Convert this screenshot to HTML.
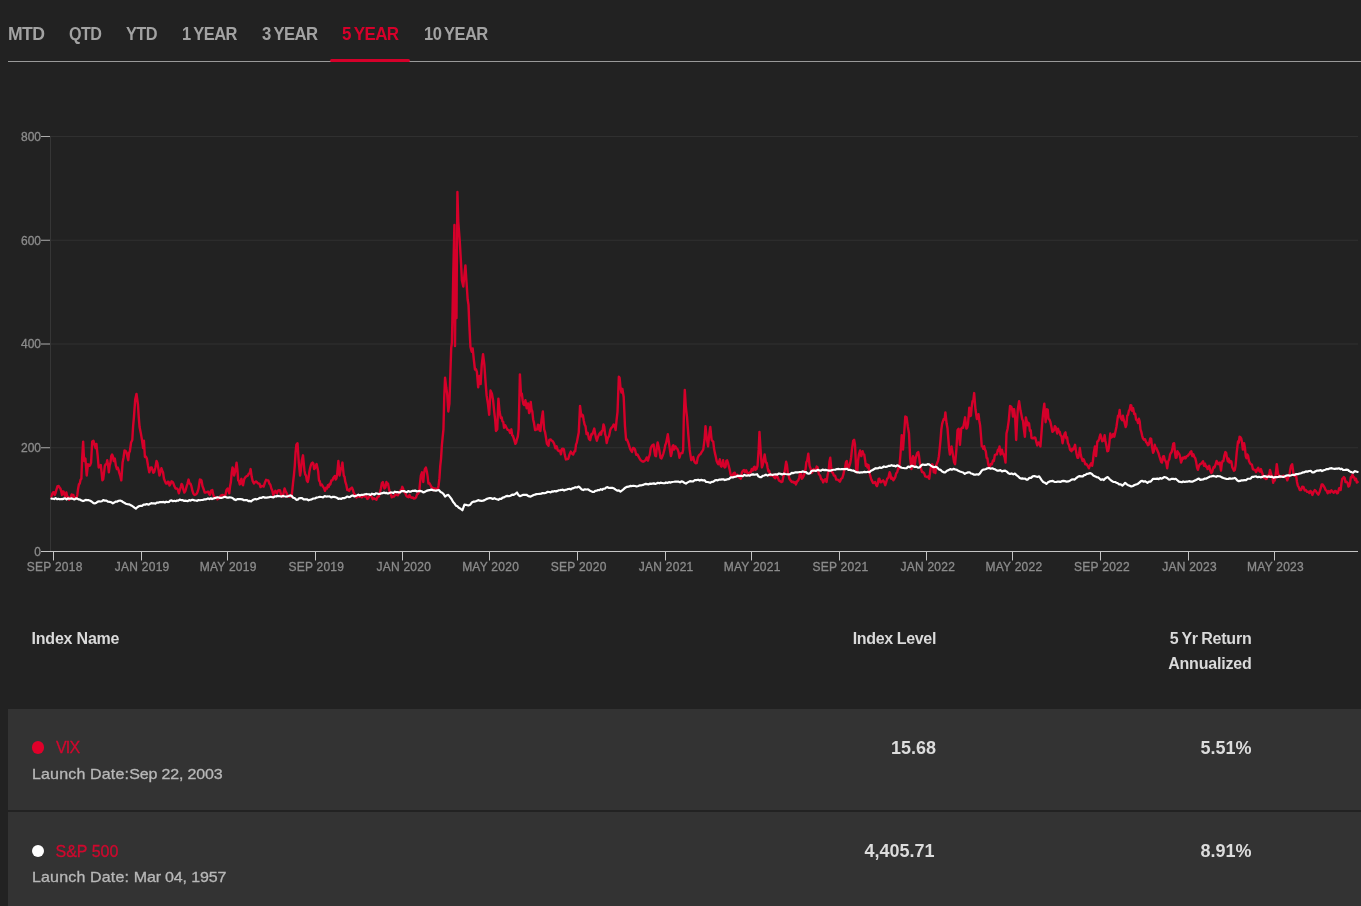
<!DOCTYPE html>
<html lang="en"><head><meta charset="utf-8"><title>Index performance</title>
<style>
html,body{margin:0;padding:0;background:#222222;}
body{width:1361px;height:906px;position:relative;overflow:hidden;font-family:"Liberation Sans",sans-serif;color:#d8d8d8;}
.tab{position:absolute;top:23px;height:22px;line-height:22px;font-size:17.5px;font-weight:bold;color:#a2a2a2;white-space:nowrap;letter-spacing:-0.6px;word-spacing:-1px;transform-origin:0 50%}
.tab.on{color:#d6002a}
.rule{position:absolute;left:8px;right:0;top:61px;height:1px;background:#9a9a9a}
.ul{position:absolute;left:330px;width:80px;top:59px;height:3px;border-radius:2px;background:#d6002a}
.chart{position:absolute;left:0;top:0}
.ax{font-family:"Liberation Sans",sans-serif;font-size:12px;fill:#8c8c8c;stroke:#8c8c8c;stroke-width:0.3px}
.xl{letter-spacing:0.25px}
.th{position:absolute;font-size:16px;font-weight:bold;color:#dadada;line-height:25px;white-space:nowrap;letter-spacing:-0.2px}
.row{position:absolute;left:8px;right:0;background:#333333}
.dot{position:absolute;width:12.6px;height:12.6px;border-radius:50%}
.nm{position:absolute;left:56px;font-size:16px;color:#d0082e;-webkit-text-stroke:0.3px #d0082e;white-space:nowrap;line-height:20px}
.ld{position:absolute;left:32px;font-size:15px;transform:scaleX(1.067);transform-origin:0 50%;color:#b8b8b8;-webkit-text-stroke:0.3px #b8b8b8;white-space:nowrap;line-height:20px}
.la{letter-spacing:0.15px}.lb{letter-spacing:-0.15px}
.val{position:absolute;font-size:18px;font-weight:bold;color:#dcdcdc;white-space:nowrap;line-height:22px;text-align:right}
#wrap{position:absolute;left:0;top:0;width:1361px;height:906px;will-change:transform;transform:translateZ(0)}
</style></head><body><div id="wrap">
<span class="tab" style="left:7.6px;transform:scaleX(1.007)">MTD</span><span class="tab" style="left:68.5px;transform:scaleX(0.921)">QTD</span><span class="tab" style="left:125.8px;transform:scaleX(0.932)">YTD</span><span class="tab" style="left:182.0px;transform:scaleX(0.94)">1 YEAR</span><span class="tab" style="left:261.7px;transform:scaleX(0.953)">3 YEAR</span><span class="tab on" style="left:341.6px;transform:scaleX(0.97)">5 YEAR</span><span class="tab" style="left:423.7px;transform:scaleX(0.945)">10 YEAR</span>
<div class="rule"></div><div class="ul"></div>
<svg class="chart" width="1361" height="600" viewBox="0 0 1361 600">
<line x1="50" y1="136.5" x2="1358" y2="136.5" stroke="#303030" stroke-width="1"/>
<line x1="50" y1="240.25" x2="1358" y2="240.25" stroke="#303030" stroke-width="1"/>
<line x1="50" y1="344.0" x2="1358" y2="344.0" stroke="#303030" stroke-width="1"/>
<line x1="50" y1="447.75" x2="1358" y2="447.75" stroke="#303030" stroke-width="1"/>
<line x1="50.5" y1="136" x2="50.5" y2="552" stroke="#363636" stroke-width="1"/>
<line x1="41" y1="136.5" x2="50" y2="136.5" stroke="#adadad" stroke-width="1"/>
<text x="41" y="140.8" text-anchor="end" class="ax">800</text>
<line x1="41" y1="240.25" x2="50" y2="240.25" stroke="#adadad" stroke-width="1"/>
<text x="41" y="244.55" text-anchor="end" class="ax">600</text>
<line x1="41" y1="344.0" x2="50" y2="344.0" stroke="#adadad" stroke-width="1"/>
<text x="41" y="348.3" text-anchor="end" class="ax">400</text>
<line x1="41" y1="447.75" x2="50" y2="447.75" stroke="#adadad" stroke-width="1"/>
<text x="41" y="452.05" text-anchor="end" class="ax">200</text>
<line x1="41" y1="551.5" x2="50" y2="551.5" stroke="#adadad" stroke-width="1"/>
<text x="41" y="555.8" text-anchor="end" class="ax">0</text>
<line x1="41" y1="551.5" x2="1358" y2="551.5" stroke="#c4c4c4" stroke-width="1"/>
<line x1="53.5" y1="551.5" x2="53.5" y2="560.5" stroke="#c4c4c4" stroke-width="1"/>
<text x="54.7" y="571" text-anchor="middle" class="ax xl">SEP 2018</text>
<line x1="141.5" y1="551.5" x2="141.5" y2="560.5" stroke="#c4c4c4" stroke-width="1"/>
<text x="142.2" y="571" text-anchor="middle" class="ax xl">JAN 2019</text>
<line x1="227.5" y1="551.5" x2="227.5" y2="560.5" stroke="#c4c4c4" stroke-width="1"/>
<text x="228.2" y="571" text-anchor="middle" class="ax xl">MAY 2019</text>
<line x1="315.5" y1="551.5" x2="315.5" y2="560.5" stroke="#c4c4c4" stroke-width="1"/>
<text x="316.3" y="571" text-anchor="middle" class="ax xl">SEP 2019</text>
<line x1="402.5" y1="551.5" x2="402.5" y2="560.5" stroke="#c4c4c4" stroke-width="1"/>
<text x="403.8" y="571" text-anchor="middle" class="ax xl">JAN 2020</text>
<line x1="489.5" y1="551.5" x2="489.5" y2="560.5" stroke="#c4c4c4" stroke-width="1"/>
<text x="490.6" y="571" text-anchor="middle" class="ax xl">MAY 2020</text>
<line x1="577.5" y1="551.5" x2="577.5" y2="560.5" stroke="#c4c4c4" stroke-width="1"/>
<text x="578.7" y="571" text-anchor="middle" class="ax xl">SEP 2020</text>
<line x1="665.5" y1="551.5" x2="665.5" y2="560.5" stroke="#c4c4c4" stroke-width="1"/>
<text x="666.2" y="571" text-anchor="middle" class="ax xl">JAN 2021</text>
<line x1="751.5" y1="551.5" x2="751.5" y2="560.5" stroke="#c4c4c4" stroke-width="1"/>
<text x="752.2" y="571" text-anchor="middle" class="ax xl">MAY 2021</text>
<line x1="839.5" y1="551.5" x2="839.5" y2="560.5" stroke="#c4c4c4" stroke-width="1"/>
<text x="840.4" y="571" text-anchor="middle" class="ax xl">SEP 2021</text>
<line x1="926.5" y1="551.5" x2="926.5" y2="560.5" stroke="#c4c4c4" stroke-width="1"/>
<text x="927.8" y="571" text-anchor="middle" class="ax xl">JAN 2022</text>
<line x1="1012.5" y1="551.5" x2="1012.5" y2="560.5" stroke="#c4c4c4" stroke-width="1"/>
<text x="1013.9" y="571" text-anchor="middle" class="ax xl">MAY 2022</text>
<line x1="1100.5" y1="551.5" x2="1100.5" y2="560.5" stroke="#c4c4c4" stroke-width="1"/>
<text x="1102.0" y="571" text-anchor="middle" class="ax xl">SEP 2022</text>
<line x1="1188.5" y1="551.5" x2="1188.5" y2="560.5" stroke="#c4c4c4" stroke-width="1"/>
<text x="1189.5" y="571" text-anchor="middle" class="ax xl">JAN 2023</text>
<line x1="1274.5" y1="551.5" x2="1274.5" y2="560.5" stroke="#c4c4c4" stroke-width="1"/>
<text x="1275.5" y="571" text-anchor="middle" class="ax xl">MAY 2023</text>
<polyline fill="none" stroke="#d6002a" stroke-width="2.4" stroke-linejoin="round" stroke-linecap="round" points="51.47,496.54 52.27,493.78 53.08,492.5 53.89,492.23 54.7,494.93 55.51,493.16 56.32,490.08 57.53,486.09 58.74,486.03 59.55,487.41 60.36,488.46 61.16,491.11 61.97,494.93 62.78,491.41 63.59,491.69 64.4,494.15 65.21,496.54 66.34,492.5 67.63,498.16 68.44,497.14 69.25,499.78 70.06,498.3 70.86,497.35 71.67,494.37 72.48,494.93 73.29,494.87 74.1,498.16 75.31,497.86 76.52,498.16 77.33,494.71 78.14,488.46 78.95,484.26 79.76,483.61 80.56,479.8 81.37,478.76 82.18,457.74 83.15,441.58 84.12,460.98 85.41,458.55 86.71,475.53 88,464.21 89.46,465.83 90.26,464.98 91.07,462.59 92.2,441.58 93.5,440.77 94.79,445.62 95.6,448.03 96.41,444 97.7,456.13 98.67,467.44 99.72,466.69 100.77,465.02 101.58,472.13 102.39,480.38 103.19,479.26 104,473.1 104.81,466.04 105.62,464.21 106.43,464.4 107.24,460.17 108.04,464.99 108.85,472.29 109.66,465.36 110.47,462.59 111.28,456.11 112.09,454.51 112.9,456.51 113.7,460.98 114.84,458.55 115.89,465.72 116.94,469.06 117.75,467.64 118.55,469.87 119.36,473.15 120.17,475.53 121.3,480.38 122.59,462.59 123.56,457.43 124.53,450.47 125.59,450.82 126.64,452.9 127.44,456.85 128.25,460.17 129.06,452.86 129.87,451.28 131.08,442.47 132.29,439.96 133.1,426.24 133.91,417.33 135.2,399.55 136.5,393.89 137.95,404.4 138.76,417.33 139.57,427.03 140.78,432.92 141.99,439.96 143.12,448.05 143.93,440.77 144.9,456.94 145.87,456.55 146.84,458.55 148.06,465.93 149.27,472.29 150.07,469.6 150.88,467.44 151.69,467.5 152.5,469.87 153.31,472.74 154.12,472.29 155.33,467.81 156.54,460.98 157.35,462.67 158.16,467.44 159.45,475.53 160.42,472.31 161.39,468.25 162.2,470.41 163.01,472.29 163.98,478.72 164.95,481.18 166,483.53 167.05,483.61 167.86,481.76 168.67,481.99 169.47,485.56 170.28,484.42 171.5,481.33 172.71,481.99 173.51,483.61 174.32,486.03 175.53,488.44 176.75,488.46 177.8,489.34 178.85,493.31 179.82,490.03 180.79,486.84 181.6,483.86 182.41,485.23 183.38,489.63 184.35,492.5 185.4,490.86 186.45,486.84 187.5,483.56 188.55,479.57 189.52,483.47 190.49,483.61 191.46,486.38 192.43,490.88 193.48,493.75 194.53,494.93 195.75,494.52 196.96,493.31 197.76,491.24 198.57,488.46 199.87,479.57 200.68,479.75 201.48,480.38 202.45,486.06 203.42,488.46 204.63,492.46 205.85,492.5 207.06,491.98 208.27,491.69 209.08,494.01 209.89,494.93 211.1,490.6 212.31,490.08 213.12,494.17 213.93,496.54 215.14,497.54 216.35,497.35 217.43,499.35 218.51,498.65 219.59,497.35 220.67,495.66 221.74,495.26 222.82,494.93 224.03,496.03 225.25,495.73 226.46,490.01 227.67,488.46 228.48,490.72 229.29,493.31 230.09,486.11 230.9,481.99 231.71,472.64 232.52,467.44 233.33,469.01 234.14,475.53 235.35,470.6 236.56,462.59 237.37,469.41 238.18,480.38 238.99,481.15 239.79,484.42 240.6,481.05 241.41,478.76 242.22,483.84 243.03,485.23 244.24,479.08 245.45,477.14 246.66,476.07 247.88,475.53 248.8,473.64 249.71,473.37 250.63,469.06 251.68,476.84 252.73,481.18 253.94,483.4 255.15,481.99 256.23,481.44 257.31,482.65 258.39,483.61 259.47,483.74 260.54,487.06 261.62,486.03 262.42,486.03 263.63,486.62 264.85,482.8 266.06,479.85 267.27,480.38 268.32,480.39 269.38,483.61 270.35,484.77 271.32,488.46 272.29,490.52 273.26,494.93 274.31,492.84 275.36,490.88 276.17,492.48 276.97,493.31 278.02,490.65 279.08,490.08 280.05,490.35 281.02,494.93 281.99,495.4 282.96,496.54 283.76,491.93 284.57,488.46 285.62,491.18 286.67,493.31 287.72,496.43 288.77,495.73 289.69,496.79 290.6,496.33 291.52,496.54 292.33,489.8 293.14,481.99 293.95,474.87 294.76,465.83 295.56,452.39 296.37,444.81 297.5,443.2 298.8,462.59 300.09,475.53 300.9,470.57 301.71,460.98 303,455.32 304.46,470.68 305.26,474.65 306.07,475.53 306.88,480.69 307.69,481.99 308.5,478.71 309.3,472.29 310.11,468.03 310.92,465.02 311.73,463.19 312.54,462.59 313.35,463.47 314.15,469.06 314.96,468.23 315.77,465.83 316.58,464.06 317.39,467.44 318.19,471.55 319,480.38 319.81,481.37 320.62,485.23 321.84,484.44 323.05,486.84 324.02,488.13 324.99,490.88 326.04,487.65 327.09,488.46 327.89,485.34 328.7,486.84 329.51,483.97 330.32,484.42 331.37,480.43 332.42,480.38 333.23,478.06 334.04,477.14 334.85,475.89 335.65,479.57 336.46,478.32 337.27,473.1 338.4,460.98 339.53,475.53 340.83,469.06 341.63,466.5 342.44,462.59 343.74,475.53 344.55,476.94 345.35,481.99 346.32,484.86 347.29,490.08 348.26,489.8 349.23,490.88 350.04,489.06 350.85,488.46 351.9,487.56 352.95,490.08 354.16,494.02 355.38,494.93 356.46,497.52 357.53,495.86 358.61,496.54 359.69,496.74 360.76,495.4 361.84,497.35 362.92,495.46 364,496.17 365.08,496.54 366.16,496.12 367.23,498.95 368.31,498.16 369.39,496.25 370.46,495.14 371.54,496.54 372.75,499.18 373.97,498.16 375.18,499.08 376.39,499.78 377.61,496.75 378.82,496.54 379.87,492.69 380.92,488.46 381.89,482.97 382.86,481.99 383.67,485.36 384.47,488.46 385.44,487.51 386.41,481.99 387.22,484.59 388.03,483.61 389.08,489.36 390.13,493.31 390.94,494.33 391.75,497.35 392.96,496.4 394.17,496.54 395.38,494.35 396.6,494.93 397.81,495.27 399.02,493.31 399.83,491.84 400.64,490.08 401.45,489.74 402.26,486.84 403.06,488.49 403.87,491.69 405.09,492.53 406.3,495.73 407.38,496.76 408.45,497.22 409.53,494.93 410.61,497.2 411.68,497.8 412.76,497.35 413.84,498.64 414.92,498.32 416,497.35 417.08,494.33 418.15,493.65 419.23,491.69 420.04,482.91 420.85,475.53 421.98,472.29 423.27,481.99 424.08,473 424.89,469.06 425.86,467.6 426.83,471.49 427.63,476.39 428.44,483.61 429.5,483.26 430.55,485.23 431.6,487.35 432.65,487.65 433.62,490.16 434.59,488.46 435.8,488.62 437.01,489.27 437.82,489.28 438.63,485.23 439.44,478.15 440.25,465.83 441.03,458.87 441.82,445.97 442.63,437.41 443.44,429.32 444.25,396.99 445.06,377.59 446.19,387.29 447.16,393.76 448.29,411.54 449.42,403.46 450.39,372.74 451.2,348 451.9,343 452.6,310 453.3,272 454.4,225 454.7,320 455,346 455.5,290 456,250 456.5,318 457,240 457.4,192 458.3,222 459.7,240 461.1,264.5 461.9,280.4 463.3,286.6 464.3,276 465.4,265.4 466.5,282 467.7,299.8 468.5,304.85 469.3,324.25 470.44,346.88 471.73,351.73 472.7,348.5 473.67,358.2 474.96,369.51 475.93,369.15 476.9,371.94 478.2,387.29 479.49,375.98 480.62,384.06 481.75,364.66 483.05,354.15 484.34,364.66 485.47,380.83 486.6,395.38 487.9,403.46 489.19,414.78 490.48,390.53 491.94,393.76 493.07,400.23 494.36,413.16 495.17,419.66 495.98,430.94 497.27,429.32 498.4,398.61 499.53,411.54 500.83,418.01 501.63,417.25 502.44,421.24 503.25,421.92 504.06,427.71 505.27,425.28 506.49,427.71 507.7,429.93 508.91,430.13 510.12,432.97 511.34,429.32 512.14,435.26 512.95,435.79 514.16,439.68 515.38,443.87 516.18,442.58 516.99,439.02 517.8,436.52 518.61,429.32 519.42,396.99 519.9,374.36 521.03,395.38 521.84,393.64 522.65,400.23 523.46,404.22 524.27,405.08 525.4,400.23 526.69,408.31 527.99,403.46 529.12,413.16 529.92,411.37 530.73,401.84 531.54,409.37 532.35,411.54 533.16,419.42 533.97,422.86 535.1,430.13 536.15,429.55 537.2,429.32 538.01,424.65 538.82,425.28 539.62,430.48 540.43,430.94 541.56,419.62 542.86,411.54 544.15,429.32 545.12,432.45 546.09,438.22 546.9,443.68 547.71,444.68 548.52,445.72 549.32,439.83 550.54,439.46 551.75,440.64 552.96,441.53 554.17,443.87 555.38,448.3 556.6,446.3 557.81,450.29 559.02,451.15 559.99,450.55 560.96,454.38 562.01,449.01 563.06,448.72 563.87,449.18 564.68,454.38 565.89,459.43 567.11,459.23 568.32,458.79 569.53,454.38 570.75,451.62 571.96,453.57 573.17,454.56 574.38,451.15 575.19,451.28 576,444.68 576.81,442.61 577.61,438.22 578.75,432.56 580.04,405.88 581.33,416.39 582.14,414.65 582.95,415.58 583.76,420.45 584.57,424.47 585.54,426.32 586.51,434.17 587.72,432.86 588.93,439.02 590.14,440.22 591.35,434.17 592.16,434.55 592.97,432.56 594.26,428.52 595.07,433.18 595.88,437.41 596.85,440.73 597.82,437.41 599.04,434.47 600.25,432.56 601.06,434.72 601.86,430.94 602.67,430.39 603.48,424.47 604.29,426.97 605.1,434.17 605.9,436.74 606.71,443.06 607.92,437.87 609.14,435.79 610.35,429.68 611.56,427.71 612.61,426.81 613.66,424.47 614.63,425.31 615.6,430.13 616.57,420.14 617.54,411.54 618.84,376.79 619.64,377.99 620.45,387.29 621.42,392.45 622.39,388.91 623.69,396.99 624.98,426.09 626.11,439.83 626.92,439.55 627.73,441.45 628.54,443.57 629.34,446.3 630.15,448.9 630.96,450.34 632.01,451.93 633.06,447.91 634.03,448.17 635,449.53 636.21,454.78 637.43,454.38 638.72,456.82 640.01,459.23 640.66,460.17 641.87,461.18 643.08,461.79 644.3,461.13 645.51,460.17 646.72,457.39 647.93,460.65 648.9,457.19 649.87,454.51 650.68,448.3 651.49,446.43 652.78,444.81 653.59,444.57 654.4,451.28 655.21,455.7 656.02,456.13 656.83,446.99 657.63,442.39 658.44,445.84 659.25,449.66 660.54,457.74 661.51,458.39 662.48,456.13 663.45,453.27 664.42,449.66 665.23,445.19 666.04,443.2 666.93,438.89 667.82,434.3 669.27,444.81 670.08,450.85 670.89,456.13 671.69,453.22 672.5,446.43 673.31,445.28 674.12,449.66 675.41,446.43 676.38,448.06 677.35,448.85 678.4,451.61 679.46,457.74 680.51,453.85 681.56,452.9 682.37,453.13 683.17,449.66 683.82,417.33 684.79,389.85 685.76,406.02 687.05,417.33 688.35,435.11 689.64,449.66 690.45,454.97 691.26,460.17 692.23,458.95 693.2,456.94 694.41,461.8 695.62,463.4 696.67,463.15 697.72,457.74 698.69,455.75 699.66,454.51 700.63,454.05 701.6,452.09 702.41,450.91 703.22,449.66 704.51,439.96 705.48,426.22 706.77,438.35 708.07,446.43 709.36,433.5 710.33,427.03 711.62,439.96 712.43,440.86 713.24,441.58 714.05,448.6 714.86,452.9 715.75,456.63 716.64,460.98 717.44,462.8 718.25,464.21 719.06,461.65 719.87,459.36 720.68,465.7 721.49,466.64 722.3,464.62 723.1,460.17 723.91,466.09 724.72,467.44 725.53,466.88 726.34,460.98 727.14,460.3 727.95,462.59 728.76,466.18 729.57,469.06 730.62,474.76 731.67,475.53 732.64,476.16 733.61,473.1 734.82,472.76 736.03,476.34 737.25,474.74 738.46,477.14 739.67,477.65 740.88,478.76 741.93,472.41 742.99,470.68 743.96,470.03 744.93,472.29 746.14,470.34 747.35,473.1 748.57,473.63 749.78,472.29 750.75,472.28 751.72,469.06 752.77,470.55 753.82,467.44 754.62,466.66 755.43,469.87 756.48,469.11 757.53,465.83 758.67,449.66 759.47,431.88 760.77,452.9 761.9,467.44 762.71,465.18 763.52,460.98 764.65,454.51 765.94,462.59 766.75,462.88 767.56,467.44 768.37,471.26 769.17,470.68 770.38,475.68 771.6,475.53 772.81,474.85 774.02,477.14 775.24,478.34 776.45,474.72 777.66,477.02 778.87,480.38 780.09,481.12 781.3,481.99 782.35,481.68 783.4,476.34 784.21,474.54 785.02,469.06 786.15,461.79 786.95,465.05 787.76,472.29 788.57,475.16 789.38,478.76 790.6,480.45 791.81,481.99 793.02,481.6 794.23,482.8 795.04,482.13 795.85,484.42 797.06,481.5 798.27,480.38 799.24,477.51 800.21,472.29 801.02,472.95 801.83,478.76 802.88,477.43 803.93,475.53 804.74,471.96 805.55,469.06 806.36,462.13 807.16,460.98 808.29,453.7 809.59,465.83 810.56,468.5 811.53,473.1 812.58,471.78 813.63,469.06 814.68,469.94 815.73,470.68 816.7,466.56 817.67,467.44 818.88,474.2 820.1,475.53 821.15,479.06 822.2,479.57 823.17,482.38 824.14,480.38 825.35,479.2 826.56,481.99 827.61,475.09 828.66,470.68 829.47,461.43 830.28,457.74 831.09,466.69 831.9,472.29 832.87,472.66 833.84,475.53 835.05,475.61 836.26,479.57 837.48,479.58 838.69,480.38 839.9,481.67 841.11,478.76 842.33,478.03 843.54,473.91 844.35,469.31 845.15,467.44 845.96,462.09 846.77,460.98 847.74,466.74 848.71,467.44 849.52,465.44 850.32,462.59 851.13,457.43 851.94,449.66 853.23,440.77 854.12,439.78 855.01,444.81 856.14,469.06 857.27,472.29 858.08,460.71 858.89,454.51 860.02,450.47 861.32,456.13 862.61,451.28 863.42,454.16 864.23,454.51 865.04,459.7 865.84,465.83 866.65,464.12 867.46,467.44 868.59,465.02 869.4,472.76 870.21,475.53 871.02,478.66 871.82,480.38 873.04,483.1 874.25,482.8 875.22,482 876.19,485.23 877,486.14 877.8,483.61 878.61,479.01 879.42,478.76 880.47,482.21 881.52,481.99 882.33,480.95 883.14,480.38 884.19,482.01 885.24,485.23 886.21,482.26 887.18,478.76 888.39,477.81 889.61,472.29 890.41,474.28 891.22,478.76 892.27,477.67 893.32,480.38 894.29,478.9 895.26,477.14 896.23,473.3 897.2,472.29 898.25,468.05 899.3,468.25 900.44,454.51 901.73,435.11 903.02,449.66 904.15,433.5 905.29,416.52 906.58,417.33 907.87,427.03 909,433.5 910.14,457.74 911.43,469.06 912.24,460.52 913.05,456.13 913.86,458.18 914.66,465.83 915.47,459.12 916.28,456.13 917.25,452.86 918.22,452.09 919.03,456.08 919.84,462.59 921.13,469.06 922.1,472.14 923.07,472.29 924.12,473.17 925.17,476.34 926.22,476.74 927.27,477.14 928.24,476.27 929.21,478.76 930.5,469.06 931.31,465.73 932.12,464.21 932.93,465.46 933.74,472.29 934.55,471.32 935.35,473.1 936.32,465.02 937.29,462.59 938.1,460.84 938.91,456.13 939.72,448.4 940.53,439.96 941.34,429.4 942.14,423.8 942.95,421.16 943.76,418.95 944.57,419.6 945.38,412.48 946.67,423.8 947.48,427.92 948.29,438.35 949.1,448.7 949.9,454.51 950.71,450 951.52,446.43 952.33,451.25 953.14,456.13 954.11,462.27 955.08,464.21 956.37,449.66 957.5,430.26 958.63,428.65 959.93,444.81 961.22,428.65 962.19,427.37 963.16,427.84 964.13,422.64 965.1,417.33 966.39,428.65 967.2,427.79 968.01,423.8 969.3,407.63 970.11,416.1 970.92,415.71 971.72,406.96 972.53,401.17 973.34,400.47 974.15,393.08 975.44,409.25 976.9,418.95 977.71,418.36 978.52,414.1 979.33,420.94 980.13,425.41 980.94,435.18 981.75,446.43 982.56,446.57 983.37,448.85 984.17,446.16 984.98,449.66 985.79,451.23 986.6,457.74 987.41,458.3 988.22,464.21 989.03,466.86 989.83,466.64 990.88,463.97 991.93,464.21 992.9,460.53 993.87,460.98 994.84,455.08 995.81,454.51 996.86,454.39 997.91,449.66 998.72,450.64 999.53,446.43 1000.66,454.51 1001.96,449.66 1002.77,453.24 1003.57,454.51 1004.54,457.16 1005.51,462.59 1006.48,433.5 1007.61,428.65 1008.75,420.56 1010.04,406.02 1011.33,406.82 1012.14,409.3 1012.95,416.52 1014.08,409.25 1015.21,418.95 1016.18,439.96 1016.99,422.86 1017.8,409.25 1019.09,401.17 1020.55,410.86 1021.36,414.54 1022.16,418.95 1022.97,420.9 1023.78,428.65 1024.91,436.73 1025.88,417.33 1026.69,420.9 1027.5,425.41 1028.3,422.61 1029.11,423.8 1029.92,430.85 1030.73,430.26 1031.54,438.01 1032.35,438.35 1033.32,438.3 1034.29,437.54 1035.26,437.64 1036.23,441.58 1037.28,445.42 1038.33,442.39 1039.38,443.03 1040.43,446.43 1041.56,431.88 1042.37,420.95 1043.18,412.48 1044.31,403.59 1045.6,422.18 1046.9,409.25 1047.7,409.59 1048.51,418.95 1049.48,419.54 1050.45,422.18 1051.42,426.82 1052.39,431.88 1053.2,431.09 1054.01,430.26 1054.82,426.2 1055.63,427.03 1056.43,430.3 1057.24,433.5 1058.05,428.76 1058.86,431.88 1059.67,431.64 1060.48,435.11 1061.53,436.06 1062.58,443.2 1063.63,437.59 1064.68,433.5 1065.49,432.38 1066.29,438.35 1067.1,437.22 1067.91,443.2 1068.96,445.04 1070.01,449.66 1071.47,451.28 1072.28,448.64 1073.08,449.66 1074.05,447.84 1075.02,444.81 1075.83,449.86 1076.64,454.51 1077.45,457.76 1078.26,457.74 1079.07,453.95 1079.87,448.05 1080.68,454.35 1081.49,457.74 1082.54,460.97 1083.59,459.36 1084.4,461.1 1085.21,464.21 1086.42,463.98 1087.63,465.83 1088.85,468.32 1090.06,465.02 1091.11,463.33 1092.16,465.83 1092.97,460.78 1093.77,452.9 1094.91,446.43 1096.04,456.13 1097.33,441.58 1098.3,441.04 1099.27,438.35 1100.32,434.47 1101.37,437.54 1102.18,441.29 1102.99,439.96 1103.8,440.53 1104.61,435.11 1105.41,440.91 1106.22,444.81 1107.35,451.28 1108.16,450.88 1108.97,447.24 1110.26,433.5 1111.23,437.55 1112.2,436.73 1113.25,433.96 1114.3,436.73 1115.36,432.07 1116.41,427.03 1117.22,421.41 1118.02,415.71 1118.83,415.94 1119.64,410.06 1120.45,417.25 1121.26,418.95 1122.07,420.22 1122.87,415.71 1123.68,419.68 1124.49,422.18 1125.62,427.03 1126.43,424.75 1127.24,415.71 1128.05,414.95 1128.85,410.86 1129.66,409.85 1130.47,405.21 1131.28,405.49 1132.09,410.86 1133.14,408.19 1134.19,414.1 1135.16,413.67 1136.13,419.76 1137.1,420.18 1138.07,422.99 1138.88,418.8 1139.68,421.37 1140.49,429.41 1141.3,431.88 1142.11,435.57 1142.92,438.35 1143.97,439.72 1145.02,439.15 1146.07,442.11 1147.12,443.2 1147.93,445.31 1148.74,444.81 1149.55,441.5 1150.35,438.35 1151.16,438.74 1151.97,446.43 1153.1,452.9 1153.91,450.93 1154.72,444.81 1155.53,448.19 1156.34,448.05 1157.39,450.5 1158.44,452.9 1159.41,456.36 1160.38,459.36 1161.18,461.97 1161.99,462.59 1162.96,456.61 1163.93,456.13 1164.74,460.06 1165.55,460.98 1166.36,463.12 1167.17,468.25 1168.22,461.23 1169.27,459.36 1170.08,454.6 1170.88,452.9 1171.69,452.05 1172.5,448.05 1173.31,443.52 1174.12,443.2 1174.92,452.12 1175.73,457.74 1176.54,457.66 1177.35,451.28 1178.4,452.85 1179.45,454.51 1180.26,457.8 1181.07,462.59 1181.88,460.03 1182.69,457.74 1183.65,458.52 1184.62,456.94 1185.59,458.27 1186.56,456.13 1187.62,456.09 1188.67,454.51 1189.47,454.26 1190.28,452.09 1191.33,451.3 1192.38,456.13 1193.35,454.24 1194.32,456.94 1195.29,458.21 1196.26,462.59 1197.07,467.67 1197.88,469.87 1198.93,465.89 1199.98,464.21 1201.03,463.81 1202.08,462.59 1203.05,461.27 1204.02,465.83 1204.99,463.64 1205.96,466.64 1206.77,466.5 1207.58,469.06 1208.39,468.45 1209.2,465.83 1210.25,470.56 1211.3,473.1 1212.11,472.07 1212.91,469.06 1213.72,467.04 1214.53,467.44 1215.58,464.31 1216.63,460.98 1217.44,462.38 1218.25,464.21 1219.06,463.2 1219.87,462.59 1221,470.68 1221.8,463.56 1222.61,460.98 1223.42,461.07 1224.23,456.13 1225.36,452.09 1226.17,452.93 1226.98,457.74 1227.79,461.21 1228.6,458.55 1229.4,462.52 1230.21,460.98 1231.26,461.3 1232.31,467.44 1233.12,468.82 1233.93,470.68 1234.74,470.11 1235.55,465.83 1236.68,452.9 1237.97,441.58 1238.78,442.68 1239.59,436.73 1240.39,437.15 1241.2,438.35 1242.01,442.33 1242.82,449.66 1244.11,443.2 1244.92,447.66 1245.73,456.13 1246.54,458.25 1247.35,454.51 1248.15,455.89 1248.96,460.98 1249.93,463.09 1250.9,464.21 1251.87,464.52 1252.84,469.06 1253.89,469.6 1254.95,469.87 1256.16,472.06 1257.37,469.06 1258.18,467.78 1258.99,470.68 1259.96,471.69 1260.93,469.06 1261.74,471.53 1262.54,473.91 1263.59,477.6 1264.64,477.14 1265.7,479.01 1266.75,478.76 1267.55,475.73 1268.36,475.53 1269.17,474.9 1269.98,469.87 1270.79,472.62 1271.6,475.53 1272.4,476.72 1273.21,482.8 1274.02,479.11 1274.83,480.38 1275.96,472.29 1276.77,464.21 1278.06,473.91 1279.03,475.48 1280,477.14 1281.22,476.48 1282.43,476.34 1283.72,475.69 1285.01,477.14 1286.15,476.9 1287.3,480.38 1288.35,477.14 1289.4,475.53 1290.21,469.64 1291.02,465.83 1292.15,464.21 1293.28,472.29 1294.33,475.77 1295.38,475.53 1296.19,476.19 1297,481.99 1297.8,485.62 1298.61,486.84 1299.82,490.01 1301.04,490.08 1302.25,486.72 1303.46,486.84 1304.68,490.41 1305.89,490.08 1307.1,491.83 1308.31,491.69 1309.36,493.06 1310.41,490.88 1311.38,492 1312.35,494.93 1313.57,491.95 1314.78,490.08 1315.99,491.23 1317.2,493.31 1318.41,494.66 1319.63,491.69 1320.68,488.47 1321.73,484.42 1322.7,484.56 1323.67,486.03 1324.64,487.72 1325.61,490.08 1326.66,490.71 1327.71,493.31 1328.93,490.96 1330.14,492.5 1331.35,490.36 1332.56,491.69 1333.78,492.76 1334.99,490.88 1335.96,491.16 1336.93,493.31 1337.98,492.82 1339.03,488.46 1339.84,488.13 1340.64,490.08 1341.45,483.29 1342.26,478.76 1343.07,478.01 1343.88,477.14 1344.68,477.98 1345.49,481.99 1346.55,481.77 1347.6,482.8 1348.4,486.62 1349.21,486.03 1350.02,483.5 1350.83,477.14 1351.64,477.59 1352.45,474.72 1353.26,476.63 1354.06,477.14 1355.03,480.11 1356,478.76 1356.81,482.61 1357.62,481.99"/>
<polyline fill="none" stroke="#ffffff" stroke-width="2.2" stroke-linejoin="round" stroke-linecap="round" points="51.47,498.64 52.86,498.76 54.24,499.04 55.63,498.15 57.01,499.15 58.4,498.81 59.78,499.28 61.17,498.97 62.52,499.14 63.86,498.62 65.21,498.26 66.56,499.46 67.9,498.31 69.25,498.77 70.6,498.56 71.94,498.47 73.29,499.06 74.64,499.36 75.98,498.33 77.33,498.64 78.75,499.47 80.16,499.58 81.57,500.54 82.99,501.07 84.34,500.6 85.68,499.96 87.03,500.1 88.65,500.17 90.26,500.77 91.88,501.72 93.5,503.09 95.11,503.33 96.46,502.68 97.8,501.64 99.15,501.39 100.5,501.53 101.85,501.23 103.2,500.1 104.82,500.57 106.43,500.68 108.05,501.72 109.67,501.83 111.28,502.22 112.9,503.33 114.25,502.57 115.59,501.68 116.94,501.72 118.56,500.78 120.17,500.58 121.52,500.95 122.86,502.08 124.21,502.69 125.83,503.77 127.44,504.11 129.06,504.3 130.41,504.93 131.75,505.69 133.1,506.56 134.47,507.65 135.85,508.67 137.31,507.28 138.76,506.24 140.38,505.85 141.99,505.92 143.61,504.66 145.23,504.62 146.85,504.04 148.46,504.74 150.08,503.82 151.43,503.11 152.77,503.45 154.12,503.44 155.47,503.57 156.81,502.48 158.16,502.69 159.51,502.21 160.85,502.01 162.2,502.06 163.55,501.97 164.89,502.52 166.24,501.72 167.59,502.05 168.93,501.92 170.28,500.57 171.63,500.42 172.97,501.2 174.32,500.75 175.67,501.2 177.02,500.5 178.37,500.55 179.71,499.62 181.06,500.06 182.41,500.1 183.76,500.78 185.1,500.72 186.45,500.84 187.8,501.08 189.14,500.15 190.49,500.58 191.84,499.95 193.18,499.94 194.53,500.37 195.88,500.51 197.22,500.8 198.57,500.1 199.92,500.25 201.27,499.98 202.62,499.99 203.96,499.39 205.31,499.36 206.66,499.13 208.01,498.32 209.35,499.2 210.7,498.27 212.05,499.07 213.39,498.53 214.74,498.16 216.09,497.78 217.43,497.42 218.78,497.49 220.13,497.92 221.47,497.9 222.82,497.51 224.17,496.97 225.51,496.91 226.86,497.54 228.21,497.63 229.55,497.35 230.9,497.51 232.52,497.99 234.13,499.38 235.75,500.1 237.37,499.09 238.98,499.18 240.6,499.13 242.22,499.32 243.83,500.26 245.45,500.06 247.07,500.1 248.42,501.07 249.76,500.93 251.11,501.39 252.46,500.21 253.8,499.42 255.15,498.97 256.77,499.33 258.38,498.69 260,497.85 261.62,497.84 263.24,497.05 264.85,497.59 266.46,497.72 268.08,497.35 269.43,497.1 270.78,496.74 272.12,497.18 273.47,497.41 274.82,496.29 276.17,496.54 277.52,495.83 278.86,496.21 280.21,496.27 281.56,496.58 282.9,495.85 284.25,496.22 285.7,496.54 287.16,496.36 288.61,495.93 290.07,495.42 291.52,495.73 293.14,497.74 294.75,498.17 296.37,499.78 297.72,499.69 299.06,498.32 300.41,498.16 302.03,498.2 303.64,499.38 305.26,499.45 306.88,499.27 308.49,500.3 310.11,499.78 311.73,499.34 313.34,498.48 314.96,498.48 316.58,497.56 318.19,497.29 319.81,496.87 321.43,497.02 323.04,497.33 324.66,496.13 326.28,496.54 327.89,496.47 329.51,496.3 331.12,497.45 332.74,496.87 334.15,496.89 335.57,497.29 336.99,497.83 338.4,498.97 339.75,498.55 341.09,498.99 342.44,498.16 344.06,498.16 345.67,497.41 347.29,496.54 348.68,497.08 350.06,496.82 351.45,495.82 352.83,495.45 354.22,496.34 355.6,495.92 356.99,495.41 358.34,494.65 359.69,495.43 361.03,494.92 362.38,494.8 363.73,494.64 365.08,494.3 366.42,493.96 367.77,494.24 369.12,494.23 370.47,494.97 371.81,493.7 373.16,494.12 374.51,494.63 375.85,493.44 377.2,493.51 378.55,494.03 379.89,493.9 381.24,493.31 382.59,493.16 383.93,492.57 385.28,493.11 386.63,492.92 387.97,493.63 389.32,492.99 390.67,492.4 392.02,492.48 393.37,493.06 394.71,491.69 396.06,492.06 397.41,492.02 398.76,492.4 400.1,492.28 401.45,491.21 402.8,491.15 404.14,491.13 405.49,491.69 406.84,492.14 408.18,491.08 409.53,491.63 410.88,491.71 412.22,490.79 413.57,490.88 415.19,490.56 416.81,491.52 418.42,491.04 420.04,490.88 421.63,491.28 423.23,492.34 424.85,491.91 426.47,490.88 428.09,490.42 429.7,490.17 431.31,489.59 432.93,490.08 434.47,490.44 436,490.66 437.54,490.27 439.08,490.08 440.45,491.91 441.82,492.5 443.44,493.85 445.06,496.54 446.68,495.36 448.29,494.93 449.9,496.92 451.52,498.97 453.14,502.03 454.76,503.82 456.11,505.8 457.45,506.35 458.8,507.86 460.58,508.72 462.35,510.28 464.46,504.62 465.81,504.79 467.15,505.15 468.5,505.43 470.12,504.79 471.73,502.51 473.35,501.72 474.97,501.6 476.58,500.97 478.2,500.1 479.82,500.71 481.43,500.8 483.05,500.58 484.67,500.13 486.28,499.13 487.89,498.51 489.51,498.16 491.13,498.17 492.75,498.96 494.36,498.18 495.98,498.97 498.4,499.78 499.81,498.75 501.23,498.92 502.64,497.6 504.06,497.35 505.68,496.34 507.29,495.89 508.91,496.21 510.53,495.73 512.14,494.68 513.76,494.79 515.38,493.84 516.99,492.5 518.44,495.04 519.9,496.22 521.63,495.46 523.35,494.78 525.08,494.93 526.49,494.77 527.9,495.73 529.32,496.43 530.73,496.54 532.14,495.86 533.56,494.96 534.98,494.61 536.39,494.12 538.01,494.01 539.62,493.8 541.24,493.62 542.86,492.99 544.48,493.23 546.09,492.74 547.71,491.73 549.32,492.02 550.67,492.31 552.02,491.35 553.37,491.54 554.71,491.08 556.06,491.4 557.41,490.88 558.76,490.27 560.1,490.15 561.45,489.96 562.8,489.64 564.14,490.48 565.49,489.75 566.84,489.59 568.18,488.97 569.53,488.8 570.88,489.37 572.22,488.42 573.57,488.14 575.3,487.22 577.02,487.49 578.75,486.52 580.26,487.92 581.76,489.58 583.27,490.08 584.89,489.25 586.5,489.5 588.12,489.27 589.53,490.4 590.95,491.12 592.37,491.91 593.78,492.02 595.19,490.89 596.61,490.76 598.03,490.03 599.44,490.08 600.79,489.16 602.13,489.77 603.48,488.74 604.83,488.74 606.17,487.48 607.52,487.17 609.14,488.01 610.75,487.74 612.37,487.8 613.99,488.46 615.61,489.66 617.22,490.7 618.84,490.33 620.45,491.69 622.07,490.48 623.68,489.16 625.3,487.65 626.92,486.85 628.53,486.66 630.15,485.93 631.77,486.03 633.39,485.78 635,486.01 636.62,486.52 638.32,486.01 640.01,485.23 641.55,485.28 643.08,484.9 644.43,484.32 645.78,483.89 647.12,484.17 648.47,484.5 649.82,483.65 651.17,483.93 652.52,483.56 653.86,483.3 655.21,484.02 656.56,483.57 657.9,482.79 659.25,483.29 660.6,482.68 661.94,483.03 663.29,483.2 664.64,483.26 665.98,482.44 667.33,482.96 668.95,482.17 670.56,482.59 672.18,481.99 673.8,481.78 675.41,481.53 677.03,481.48 678.65,481.67 680,482.3 681.34,481.41 682.69,481.67 684.31,482.73 685.92,483.61 687.27,482.6 688.61,481.87 689.96,481.18 691.58,481.41 693.19,481.31 694.81,480.14 696.43,480.05 698.05,479.71 699.66,480.53 701.28,479.88 702.9,480.38 704.51,480.22 706.13,482.02 707.74,481.99 710.17,482.8 711.79,481.89 713.4,481.64 715.02,480.38 716.37,479.98 717.71,480.38 719.06,479.57 720.47,479.64 721.89,479.34 723.31,479.25 724.72,480.05 726.17,479.61 727.63,479.21 729.08,479.08 730.54,477.41 731.99,477.47 733.34,477.37 734.69,476.75 736.04,476.67 737.38,475.89 738.73,475.82 740.08,475.85 741.43,475.77 742.77,476.23 744.12,474.98 745.47,475.4 746.81,475.74 748.16,475.2 749.77,475.73 751.39,474.54 753,474.32 754.62,474.72 757.05,474.23 758.42,476.31 759.8,477.14 761.25,477.16 762.71,475.85 764.33,475.54 765.94,474.66 767.55,475.6 769.17,474.72 770.79,474.44 772.4,475.04 774.02,474.52 775.64,474.23 777.26,474.58 778.87,473.54 780.49,473.91 782.11,474.39 783.73,473.68 785.34,474.02 786.96,474.23 788.58,474.43 790.19,474.13 791.8,472.94 793.42,473.1 795.04,472.42 796.65,472.39 798.27,472.28 799.89,471.97 801.51,471.81 803.12,471.44 804.74,471.97 806.09,472.16 807.43,473.36 808.78,473.59 810.13,473.18 811.47,471.01 812.82,470.68 814.44,470.68 816.06,470.88 817.67,469.79 819.29,470.35 820.9,470.7 822.52,469.57 824.13,470.13 825.75,469.87 827.37,470.21 828.98,470.59 830.6,470.68 832.22,470 833.84,469.76 835.45,469.58 837.07,469.06 838.69,468.96 840.31,469.28 841.92,468.99 843.54,469.06 845.15,469.18 846.77,468.8 848.38,469.83 850,469.87 851.67,470.4 853.34,470.58 855.01,471.49 856.55,472.26 858.08,472.29 859.7,472.68 861.31,472.23 862.93,472.29 864.55,471.84 866.16,472.25 867.78,471.74 869.4,472.29 871.02,470.69 872.63,470.04 874.25,469.06 875.6,468.22 876.94,468.44 878.29,468.26 879.64,467.34 880.98,467.9 882.33,467.44 883.95,466.45 885.57,466.96 887.18,466.62 888.8,465.83 890.19,465.85 891.57,465.21 892.96,465.84 894.34,465.66 895.73,466.46 897.11,465.32 898.5,465.83 900.12,466.93 901.73,467.73 903.35,467.97 904.96,468.25 906.58,468.09 908.19,466.61 909.81,467.11 911.43,465.83 913.05,466.09 914.66,467.01 916.28,466.64 917.89,467.62 919.51,467.44 921.12,465.52 922.74,464.53 924.36,464.83 925.97,464.92 927.59,464.21 929.21,464.41 930.82,465.62 932.44,466.64 934.06,467.27 935.67,466.7 937.29,467.44 938.91,469.35 940.52,469.82 942.14,471.49 943.76,472.33 945.38,472.29 947,470.71 948.61,470.14 950.23,469.06 951.85,469.75 953.46,468.86 955.08,469.38 956.7,469.75 958.31,470.8 959.93,471.49 961.55,472.04 963.16,472.45 964.78,473.91 966.39,472.92 968.01,472.36 969.62,472.29 971.03,473.51 972.45,473.76 973.87,474.67 975.28,474.72 976.9,474.26 978.52,474.72 980.13,473.1 981.75,470.68 983.16,469.53 984.58,469.51 986,469.05 987.41,468.25 989.03,468.05 990.64,468.77 992.26,468.25 993.88,468.93 995.49,469.58 997.11,470.61 998.72,470.68 1000.34,470.13 1001.96,471.37 1003.57,470.86 1005.19,470.68 1006.81,471.61 1008.42,473.25 1010.04,473.91 1011.66,473.47 1013.27,474.38 1014.89,473.59 1016.51,475.15 1018.12,476.3 1019.74,477.95 1021.09,478.59 1022.43,478.41 1023.78,478.76 1025.13,478.58 1026.47,479.64 1027.82,479.57 1029.44,477.86 1031.05,477.86 1032.67,476.34 1034.29,476 1035.91,476.53 1037.52,477.02 1039.14,476.34 1040.49,478.34 1041.83,480.34 1043.18,481.99 1044.8,482.7 1046.41,483.93 1048.03,482.32 1049.64,481.44 1051.26,481.18 1052.88,480.96 1054.49,481.88 1056.11,481.99 1057.52,481.69 1058.94,481.6 1060.36,481.94 1061.77,481.18 1063.39,480.83 1065,481.12 1066.62,481.67 1068.32,481.4 1070.01,480.7 1071.57,479.65 1073.14,479.25 1074.7,479.57 1076.32,477.99 1077.93,476.82 1079.55,476.11 1081.16,476.3 1082.78,476.34 1084.13,475.14 1085.47,474.84 1086.82,473.91 1088.44,473.63 1090.06,473.1 1091.68,473.77 1093.29,475.43 1094.91,476.34 1096.53,477.11 1098.14,477.44 1099.76,478.76 1101.11,479.8 1102.45,479.26 1103.8,480.05 1105.15,478.59 1106.49,477.54 1107.84,477.14 1109.45,478.95 1111.07,480.38 1112.42,481.44 1113.76,481.85 1115.11,481.99 1116.46,482.66 1117.8,483.28 1119.15,484.42 1120.77,484.3 1122.39,485.55 1123.77,484.38 1125.14,482.8 1126.6,484.1 1128.05,485.23 1129.66,485.67 1131.28,486.52 1132.9,486.02 1134.51,485.04 1136.13,484.42 1137.75,483.95 1139.36,482.59 1140.98,481.18 1142.33,480.83 1143.67,481.74 1145.02,481.18 1147.44,482.8 1149.06,481.6 1150.68,481.67 1153.1,478.76 1154.51,478.88 1155.93,478.79 1157.35,478.63 1158.76,479.08 1160.11,478.09 1161.45,478.72 1162.8,477.95 1164.41,477.03 1166.03,477.47 1167.38,478.24 1168.73,479.49 1170.08,479.57 1171.49,478.87 1172.9,478.74 1174.32,479.11 1175.73,478.76 1177.35,480.22 1178.97,481.67 1180.38,481.95 1181.8,482.27 1183.21,481.45 1184.62,481.99 1186.24,481.64 1187.86,481.55 1189.47,481.12 1191.09,481.67 1192.71,481.57 1194.32,480.77 1195.94,480.03 1197.56,479.08 1198.91,478.55 1200.25,479.89 1201.6,479.57 1203.01,479.51 1204.43,478.71 1205.85,478.69 1207.26,477.95 1208.61,477.35 1209.95,476.49 1211.3,476.34 1212.92,475.95 1214.53,476.29 1216.15,476.82 1217.5,476.01 1218.84,476.27 1220.19,476.34 1221.81,477.39 1223.42,478.01 1225.04,478.44 1226.66,479 1228.28,478.9 1229.89,478.35 1231.51,478.76 1233.12,478.43 1234.74,477.95 1236.09,478.94 1237.43,480.51 1238.78,481.18 1240.13,480.95 1241.47,480.32 1242.82,480.38 1244.44,480.17 1246.05,480.22 1247.67,478.77 1249.29,478.76 1250.64,478.65 1251.98,476.79 1253.33,476.82 1254.74,476.48 1256.16,476.45 1257.58,477.16 1258.99,476.82 1260.61,477.32 1262.22,476.92 1263.84,476.22 1265.45,476.34 1267.07,477.03 1268.68,476.42 1270.3,476.82 1271.92,476.56 1273.53,477.6 1275.15,477.14 1276.77,477.06 1278.38,476.88 1280,476.34 1281.67,476.57 1283.34,477.01 1285.01,476.34 1286.49,475.53 1288.11,475.28 1289.72,475.6 1291.34,475.2 1292.96,474.72 1294.58,474.94 1296.19,474.07 1297.81,474.19 1299.42,473.59 1301.04,473.26 1302.65,472.45 1304.27,472.29 1305.89,471.46 1307.5,471.6 1309.12,471 1310.74,470.84 1312.35,472.44 1313.97,472.29 1315.59,471.26 1317.2,470.55 1318.82,470.68 1320.44,470.02 1322.05,471.06 1323.67,470.35 1325.29,469.7 1326.9,468.99 1328.52,469.06 1330.14,468.29 1331.75,468.2 1333.37,468.74 1334.78,468.89 1336.2,468.68 1337.62,468.65 1339.03,468.25 1340.38,469.12 1341.72,468.72 1343.07,469.87 1344.69,470 1346.3,469.68 1347.92,469.87 1349.27,471.12 1350.61,471.93 1351.96,472.29 1353.31,472.57 1354.65,471.15 1356,471.49 1357.62,471.97"/>
</svg>
<div class="th" style="left:31.5px;top:626px">Index Name</div>
<div class="th" style="right:425px;top:626px;text-align:right;letter-spacing:-0.35px">Index Level</div>
<div class="th" style="right:109.5px;top:626px;text-align:right"><span style="word-spacing:-1px">5 Yr Return</span><br>Annualized</div>
<div class="row" style="top:709px;height:101px">
  <div class="dot" style="top:32.2px;background:#e0002a;left:23.8px"></div>
  <div class="nm" style="left:48px;top:28.5px;letter-spacing:-0.8px">VIX</div>
  <div class="ld" style="left:23.7px;top:54.9px"><span class="la">Launch Date:</span><span class="lb">Sep 22, 2003</span></div>
  <div class="val" style="right:425px;top:28px">15.68</div>
  <div class="val" style="right:109.5px;top:28px">5.51%</div>
</div>
<div class="row" style="top:811.5px;height:95px">
  <div class="dot" style="top:33.2px;background:#ffffff;left:23.8px"></div>
  <div class="nm" style="left:47.5px;top:30px">S&amp;P 500</div>
  <div class="ld" style="left:23.7px;top:55.1px"><span class="la">Launch Date: </span><span class="lb">Mar 04, 1957</span></div>
  <div class="val" style="right:426.5px;top:28.5px">4,405.71</div>
  <div class="val" style="right:109.5px;top:28.5px">8.91%</div>
</div>
</div></body></html>
